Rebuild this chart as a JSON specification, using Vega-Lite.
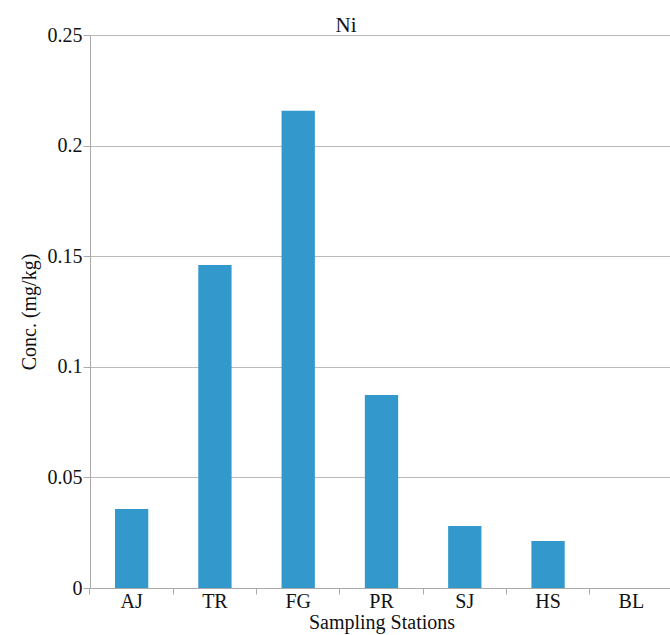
{
  "$schema": "https://vega.github.io/schema/vega-lite/v6.json",
  "autosize": {"type": "none"},
  "width": 583,
  "height": 553,
  "padding": {"left": 90, "top": 35, "right": 0, "bottom": 47},
  "background": "white",
  "title": {"text": "Ni", "font": "Liberation Serif", "fontSize": 21, "fontWeight": "normal", "color": "#111", "offset": -3, "dy": 8, "anchor": "middle", "frame": "bounds"},
  "data": {"values": [
    {"station": "AJ", "conc": 0.0357},
    {"station": "TR", "conc": 0.146},
    {"station": "FG", "conc": 0.2157},
    {"station": "PR", "conc": 0.0873},
    {"station": "SJ", "conc": 0.028},
    {"station": "HS", "conc": 0.0212},
    {"station": "BL", "conc": 0}
  ]},
  "mark": {"type": "bar", "color": "#3399cc"},
  "encoding": {
    "x": {"field": "station", "type": "nominal", "sort": null,
      "scale": {"paddingInner": 0.6, "paddingOuter": 0.3},
      "axis": {"title": "Sampling Stations", "labelAngle": 0, "bandPosition": -0.75, "tickSize": 6, "labelPadding": -3, "titlePadding": 1}},
    "y": {"field": "conc", "type": "quantitative",
      "scale": {"domain": [0, 0.25], "nice": false},
      "axis": {"title": "Conc. (mg/kg)", "values": [0, 0.05, 0.1, 0.15, 0.2, 0.25], "format": "~g", "tickSize": 7, "labelPadding": 1, "titlePadding": 8}}
  },
  "config": {
    "view": {"stroke": null},
    "title": {"font": "Liberation Serif"},
    "axis": {"labelFont": "Liberation Serif", "titleFont": "Liberation Serif", "labelFontSize": 20, "titleFontSize": 20, "titleFontWeight": "normal", "labelColor": "#111", "titleColor": "#111", "gridColor": "#bbb", "domainColor": "#aaa", "tickColor": "#aaa"}
  }
}
